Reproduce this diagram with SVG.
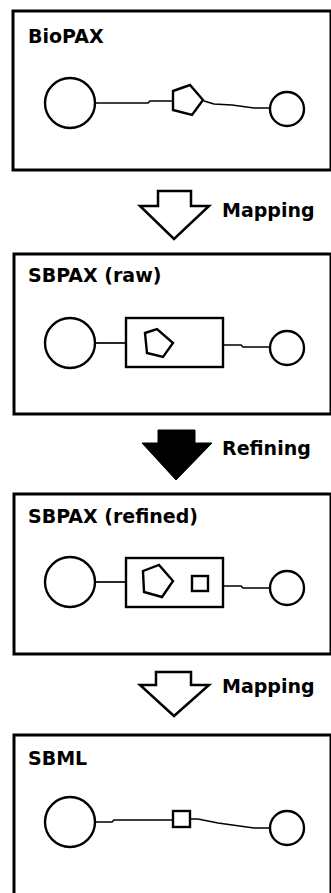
<svg xmlns="http://www.w3.org/2000/svg" width="331" height="893" viewBox="0 0 331 893">
<style>
.frame{fill:#fff;stroke:#000;stroke-width:3}
.shape{fill:#fff;stroke:#000;stroke-width:2.4}
.edge{fill:none;stroke:#000;stroke-width:1.7}
.title{font-family:"DejaVu Sans",sans-serif;font-weight:bold;font-size:19px;fill:#000}
.lbl{font-family:"DejaVu Sans",sans-serif;font-weight:bold;font-size:19px;fill:#000}
.harrow{fill:#fff;stroke:#000;stroke-width:2.5;stroke-linejoin:miter}
.farrow{fill:#000;stroke:#000;stroke-width:1}
</style>
<rect width="331" height="893" fill="#fff"/>

<g id="biopax">
<rect class="frame" x="13" y="11" width="318" height="159"/>
<text class="title" x="28" y="43">BioPAX</text>
</g>
<g id="sbpax-raw">
<rect class="frame" x="14" y="254" width="317" height="160"/>
<text class="title" x="28" y="282">SBPAX (raw)</text>
</g>
<g id="sbpax-refined">
<rect class="frame" x="14" y="494" width="317" height="160"/>
<text class="title" x="28" y="523">SBPAX (refined)</text>
</g>
<g id="sbml">
<rect class="frame" x="14" y="735" width="317" height="170"/>
<text class="title" x="28" y="765">SBML</text>
</g>

<g id="connectors">
<polyline class="edge" points="96,103 148,103 150,101 172,101"/>
<polyline class="edge" points="204,101 214,104 232,105 254,108 270,108"/>
<line class="edge" x1="96" y1="343" x2="126" y2="343"/>
<polyline class="edge" points="223,345 241,345 243,347 270,347"/>
<line class="edge" x1="96" y1="582" x2="126" y2="582"/>
<polyline class="edge" points="223,586 241,586 243,588 270,588"/>
<polyline class="edge" points="96,822 112,822 114,820 172,820"/>
<polyline class="edge" points="190,819 198,819 218,823 254,828 270,828"/>
</g>

<g id="biopax-nodes">
<circle id="b-c1" class="shape" cx="70" cy="103" r="25"/>
<polygon id="b-p" class="shape" points="173,91 190,85 203,100 192,115 173,110"/>
<circle id="b-c2" class="shape" cx="287" cy="109" r="17"/>
</g>
<g id="raw-nodes">
<circle id="r-c1" class="shape" cx="70" cy="343" r="25"/>
<rect id="r-box" class="shape" x="126" y="318" width="97" height="49"/>
<polygon id="r-p" class="shape" points="145,333 157,329 173,343 163,357 147,353"/>
<circle id="r-c2" class="shape" cx="287" cy="348" r="17"/>
</g>
<g id="refined-nodes">
<circle id="f-c1" class="shape" cx="70" cy="582" r="25"/>
<rect id="f-box" class="shape" x="126" y="558" width="97" height="49"/>
<polygon id="f-p" class="shape" points="143,571 159,565 173,581 162,597 144,592"/>
<rect id="f-sq" class="shape" x="192" y="576" width="16" height="15"/>
<circle id="f-c2" class="shape" cx="287" cy="588" r="17"/>
</g>
<g id="sbml-nodes">
<circle id="s-c1" class="shape" cx="70" cy="822" r="25"/>
<rect id="s-sq" class="shape" x="173" y="811" width="17" height="16"/>
<circle id="s-c2" class="shape" cx="287" cy="828" r="17"/>
</g>

<g id="step1">
<polygon class="harrow" points="158,191 191,191 191,206 209,206 174,239 140,206 158,206"/>
<text class="lbl" x="222" y="217">Mapping</text>
</g>
<g id="step2">
<polygon class="farrow" points="158,430 195,430 195,443 212,443 176,480 142,443 158,443"/>
<text class="lbl" x="222" y="455">Refining</text>
</g>
<g id="step3">
<polygon class="harrow" points="156,672 191,672 191,685 209,685 174,716 140,685 156,685"/>
<text class="lbl" x="222" y="693">Mapping</text>
</g>
</svg>
